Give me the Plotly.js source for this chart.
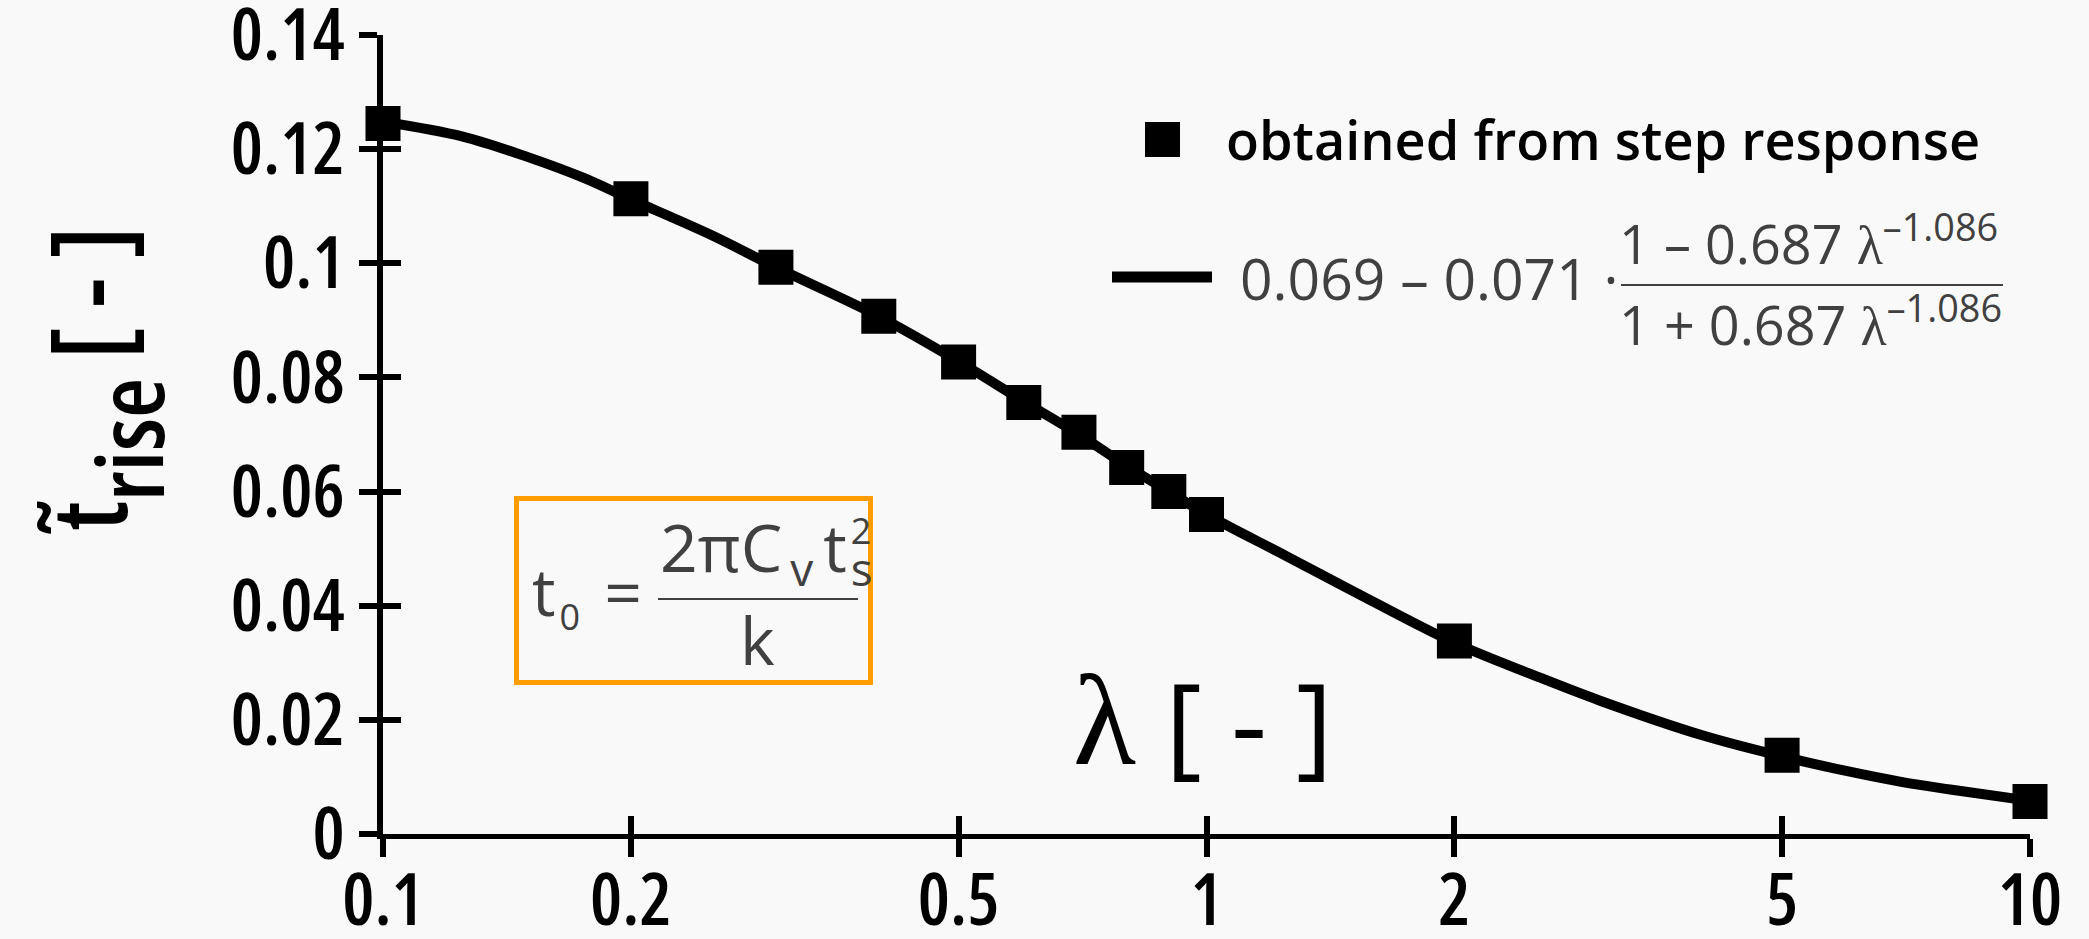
<!DOCTYPE html>
<html>
<head>
<meta charset="utf-8">
<script src="https://cdn.plot.ly/plotly-3.0.1.min.js"></script>
<style>
  html, body { margin: 0; padding: 0; background: #f9f9f9; }
  #chart { width: 2089px; height: 939px; }
</style>
</head>
<body>
<div id="chart"></div>
<script>
// ---------------- data ----------------
const lambdaMeasured = [0.1, 0.2, 0.3, 0.4, 0.5, 0.6, 0.7, 0.8, 0.9, 1, 2, 5, 10];
const tRiseMeasured  = [0.1245, 0.1113, 0.0993, 0.0907, 0.0827, 0.0756, 0.0704, 0.0642, 0.0600, 0.0560, 0.0338, 0.0138, 0.0057];

const lambdaFit = [0.1, 0.125, 0.15, 0.175, 0.2, 0.25, 0.3, 0.4, 0.5, 0.6, 0.7, 0.8, 0.9, 1, 1.25, 1.5, 2, 2.5, 3, 4, 5, 6, 7, 8, 10];
const tRiseFit  = [0.1248, 0.1222, 0.1186, 0.1150, 0.1112, 0.1050, 0.0993, 0.0907, 0.0828, 0.0758, 0.0700, 0.0645, 0.0600, 0.0560, 0.0487, 0.0427, 0.0335, 0.0278, 0.0234, 0.0173, 0.0136, 0.0110, 0.0091, 0.0078, 0.0058];

const xTickVals = [0.1, 0.2, 0.5, 1, 2, 5, 10];
const xTickText = ['0.1', '0.2', '0.5', '1', '2', '5', '10'];
const yTickVals = [0, 0.02, 0.04, 0.06, 0.08, 0.1, 0.12, 0.14];
const yTickText = ['0', '0.02', '0.04', '0.06', '0.08', '0.1', '0.12', '0.14'];

const legendMeasured = 'obtained from step response';
const legendFitPrefix = '0.069 \u2013 0.071 \u00B7';
const legendFitNum = '1 \u2013 0.687 <span style="font-family:Liberation Serif">\u03BB</span><sup>\u20131.086</sup>';
const legendFitDen = '1 + 0.687 <span style="font-family:Liberation Serif">\u03BB</span><sup>\u20131.086</sup>';
const xTitle = '<span style="font-family:Liberation Serif;font-size:130px">\u03BB</span> [ - ]';
const yTitle = '<span style="font-stretch:87.5%">t\u0303</span><sub><sub><span style="font-size:92px;font-stretch:87.5%">rise</span></sub></sub><span style="font-stretch:87.5%"> [ - ]</span>';
const boxLeft = '<span style="letter-spacing:4px">t</span><sub><span style="font-size:36px;letter-spacing:7px">0</span></sub> =';
const boxNum = '2\u03C0<span style="letter-spacing:8px">C</span><sub><span style="font-size:46px;letter-spacing:10px">v</span></sub>' +
               '<span style="letter-spacing:4px">t</span><sub><span style="font-size:46px;letter-spacing:-22px">s</span></sub>' +
               '<sup><span style="font-size:36px">2</span></sup>';
const boxDen = 'k';

// ---------------- geometry (pixels of the page) ----------------
const W = 2089, H = 939;
const L = 383, R = 2030, T = 35, B = 834;
const px = x => (x - L) / (R - L);
const py = y => (B - y) / (B - T);

const FONT = 'Open Sans, Noto Sans, sans-serif';
const GRAY = '#404040';
const condensed = s => '<span style="font-stretch:87.5%">' + s + '</span>';

function ann(text, x, y, size, opts) {
  opts = opts || {};
  return Object.assign({
    xref: 'paper', yref: 'paper', x: px(x), y: py(y), text: text,
    showarrow: false, xanchor: opts.xanchor || 'left', yanchor: opts.yanchor || 'middle',
    font: { family: FONT, size: size, color: opts.color || '#000', weight: opts.weight || 400 },
    borderpad: 0, borderwidth: 0
  }, opts.extra || {});
}

const traces = [
  {
    type: 'scatter', mode: 'lines', x: lambdaFit, y: tRiseFit,
    line: { color: '#000', width: 10, shape: 'spline', smoothing: 1 },
    cliponaxis: false, showlegend: false, hoverinfo: 'skip'
  },
  {
    type: 'scatter', mode: 'markers', x: lambdaMeasured, y: tRiseMeasured,
    marker: { symbol: 'square', size: 35, color: '#000', line: { width: 0 } },
    cliponaxis: false, showlegend: false
  },
  { type: 'scatter', x: [], y: [], xaxis: 'x2', yaxis: 'y2', showlegend: false, hoverinfo: 'skip' }
];

const tickFont = { family: FONT, size: 72, weight: 600, color: '#000' };

const layout = {
  width: W, height: H,
  margin: { l: L, r: W - R, t: T, b: H - B, pad: 0 },
  paper_bgcolor: '#f9f9f9', plot_bgcolor: '#f9f9f9',
  showlegend: false,
  xaxis: {
    type: 'log', range: [-1, 1], tickvals: xTickVals, ticktext: xTickText.map(condensed),
    ticks: 'outside', ticklen: 18, tickwidth: 6, tickcolor: '#000',
    showline: true, linewidth: 5, linecolor: '#000', ticklabelstandoff: -18,
    ticklabeloverflow: 'allow',
    showgrid: false, zeroline: false, tickfont: tickFont, fixedrange: true
  },
  yaxis: {
    range: [0, 0.14], tickvals: yTickVals, ticktext: yTickText.map(condensed),
    ticks: 'outside', ticklen: 18, tickwidth: 6, tickcolor: '#000',
    showline: true, linewidth: 6, linecolor: '#000', ticklabeloverflow: 'allow',
    showgrid: false, zeroline: false, tickfont: tickFont, fixedrange: true
  },
  xaxis2: {
    overlaying: 'x', anchor: 'y', side: 'bottom', type: 'log', range: [-1, 1],
    tickvals: xTickVals, ticks: 'inside', ticklen: 18, tickwidth: 6, tickcolor: '#000',
    showticklabels: false, showline: false, showgrid: false, zeroline: false, fixedrange: true
  },
  yaxis2: {
    overlaying: 'y', anchor: 'x', side: 'left', range: [0, 0.14],
    tickvals: yTickVals, ticks: 'inside', ticklen: 18, tickwidth: 6, tickcolor: '#000',
    showticklabels: false, showline: false, showgrid: false, zeroline: false, fixedrange: true
  },
  shapes: [
    // legend symbols
    { type: 'rect', xref: 'paper', yref: 'paper', x0: px(1145), x1: px(1180), y0: py(122), y1: py(157),
      fillcolor: '#000', line: { width: 0 } },
    { type: 'line', xref: 'paper', yref: 'paper', x0: px(1112), x1: px(1212), y0: py(277), y1: py(277),
      line: { color: '#000', width: 11 } },
    // legend fraction bar
    { type: 'line', xref: 'paper', yref: 'paper', x0: px(1621), x1: px(2003), y0: py(285), y1: py(285),
      line: { color: GRAY, width: 2 } },
    // orange box
    { type: 'rect', xref: 'paper', yref: 'paper', x0: px(516.5), x1: px(870.5), y0: py(498.5), y1: py(682.5),
      line: { color: '#ff9c00', width: 5 }, fillcolor: 'rgba(0,0,0,0)' },
    // box fraction bar
    { type: 'line', xref: 'paper', yref: 'paper', x0: px(658), x1: px(858), y0: py(599), y1: py(599),
      line: { color: GRAY, width: 2 } }
  ],
  annotations: [
    ann(legendMeasured, 1226, 138.7, 54, { weight: 600 }),
    ann(legendFitPrefix, 1240, 278, 57, { color: GRAY }),
    ann(legendFitNum, 1619, 240.4, 54, { color: GRAY }),
    ann(legendFitDen, 1619, 321.4, 54, { color: GRAY }),
    ann(boxLeft, 532, 593, 66, { color: GRAY }),
    ann(boxNum, 660, 550.2, 66, { color: GRAY }),
    ann(boxDen, 757, 639.4, 66, { color: GRAY, xanchor: 'center' }),
    ann(xTitle, 1203, 720.5, 112, { xanchor: 'center' }),
    ann(yTitle, 103, 381, 104, { xanchor: 'center', weight: 600, extra: { textangle: -90 } })
  ]
};

Plotly.newPlot('chart', traces, layout, { staticPlot: true, displayModeBar: false });
</script>
</body>
</html>
